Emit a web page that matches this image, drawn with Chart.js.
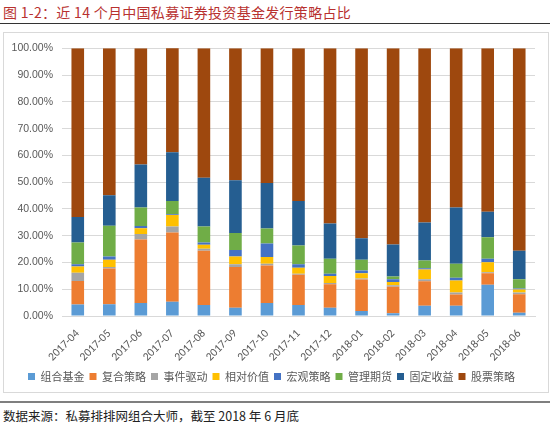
<!DOCTYPE html>
<html>
<head>
<meta charset="utf-8">
<script src="https://cdn.jsdelivr.net/npm/chart.js@4/dist/chart.umd.min.js"></script>
<style>
  html, body { margin: 0; padding: 0; background: #fff; }
  body { width: 550px; height: 428px; position: relative; overflow: hidden; font-family: "Noto Sans CJK SC", sans-serif; }
  #title { position: absolute; left: 3px; top: 2px; font-size: 14px; color: #b8312f; white-space: nowrap; letter-spacing: 0.3px; }
  #rule1 { position: absolute; left: 0; top: 23px; width: 550px; height: 0; border-top: 1.5px solid #333; }
  #box { position: absolute; left: 3px; top: 32px; width: 544px; height: 359px; border: 1px solid #d9d9d9; }
  #rule2 { position: absolute; left: 0; top: 401px; width: 550px; height: 0; border-top: 2px solid #7f7f7f; }
  #src { position: absolute; left: 3px; top: 406px; font-size: 12.5px; color: #222; white-space: nowrap; }
</style>
</head>
<body>
<div id="title">图 1-2：近 14 个月中国私募证券投资基金发行策略占比</div>
<div id="rule1"></div>
<div id="box"><canvas id="c" width="544" height="359"></canvas></div>
<div id="rule2"></div>
<div id="src">数据来源：私募排排网组合大师，截至 2018 年 6 月底</div>
<script>
const categories = ["2017-04","2017-05","2017-06","2017-07","2017-08","2017-09","2017-10","2017-11","2017-12","2018-01","2018-02","2018-03","2018-04","2018-05","2018-06"];
const seriesNames = ["组合基金","复合策略","事件驱动","相对价值","宏观策略","管理期货","固定收益","股票策略"];
const fundOfFunds   = [4.3, 4.4, 4.9, 5.3, 4.1, 3.1, 4.9, 4.1, 3.1, 1.9, 1.0, 3.8, 3.8, 11.7, 1.2];
const multiStrategy = [8.8, 13.3, 23.7, 25.9, 20.3, 15.2, 14.0, 11.3, 8.8, 11.7, 9.9, 9.2, 4.2, 4.3, 6.9];
const eventDriven   = [3.1, 0.6, 2.0, 2.2, 0.7, 1.0, 0.6, 0.4, 0.4, 0.4, 0.6, 0.7, 0.8, 0.3, 0.7];
const relativeValue = [2.3, 2.7, 2.2, 4.3, 1.5, 2.9, 2.5, 2.2, 2.6, 2.0, 1.2, 3.7, 4.5, 3.8, 1.1];
const macro         = [0.8, 1.2, 0.8, 0.3, 0.9, 2.5, 5.1, 1.3, 0.9, 1.0, 1.0, 0.4, 1.0, 1.3, 0.4];
const managedFutures= [8.2, 11.5, 6.9, 5.0, 5.9, 6.3, 5.6, 7.0, 5.6, 4.0, 1.1, 2.9, 5.2, 8.0, 3.4];
const fixedIncome   = [9.5, 11.4, 16.1, 18.2, 18.2, 19.7, 17.0, 16.7, 13.2, 8.0, 11.9, 14.2, 21.0, 9.5, 10.7];
const equity        = [63.0, 54.9, 43.4, 39.1, 48.4, 49.3, 50.3, 57.0, 65.4, 71.0, 73.3, 65.1, 59.5, 61.1, 75.6];
const yTicks = [0, 10, 20, 30, 40, 50, 60, 70, 80, 90, 100];

const seriesData = [fundOfFunds, multiStrategy, eventDriven, relativeValue, macro, managedFutures, fixedIncome, equity];
const colors = ["#5b9bd5","#ed7d31","#a5a5a5","#ffc000","#4472c4","#70ad47","#255e91","#9e480e"];

const ctx = document.getElementById('c').getContext('2d');
new Chart(ctx, {
  type: 'bar',
  data: {
    labels: categories,
    datasets: seriesNames.map((n, i) => ({
      label: n,
      data: seriesData[i],
      backgroundColor: colors[i],
      borderWidth: 0,
      categoryPercentage: 1.0,
      barPercentage: 0.4
    }))
  },
  options: {
    responsive: false,
    animation: false,
    devicePixelRatio: 1,
    layout: { padding: { left: 4, right: 13, top: 13, bottom: 0 } },
    plugins: {
      legend: {
        position: 'bottom',
        labels: {
          boxWidth: 7, boxHeight: 7, padding: 5,
          color: '#595959',
          font: { family: '"Noto Sans CJK SC", sans-serif', size: 11 }
        }
      },
      tooltip: { enabled: false }
    },
    scales: {
      x: {
        stacked: true,
        grid: { display: false },
        border: { display: true, color: '#d9d9d9' },
        afterFit: (s) => { s.height = 50; },
        ticks: {
          color: '#595959', minRotation: 45, maxRotation: 45, padding: 3,
          font: { family: 'Calibri, "Liberation Sans", "DejaVu Sans", sans-serif', size: 11.5 }
        }
      },
      y: {
        stacked: true,
        min: 0, max: 100,
        afterBuildTicks: (s) => { s.ticks = yTicks.map(v => ({ value: v })); },
        afterFit: (s) => { s.width = 54; },
        grid: { color: '#d9d9d9', drawTicks: false },
        border: { display: false },
        ticks: {
          color: '#595959', padding: 9,
          font: { family: '"Liberation Sans", "DejaVu Sans", sans-serif', size: 10.5 },
          callback: (v) => v.toFixed(2) + '%'
        }
      }
    }
  }
});
</script>
</body>
</html>
